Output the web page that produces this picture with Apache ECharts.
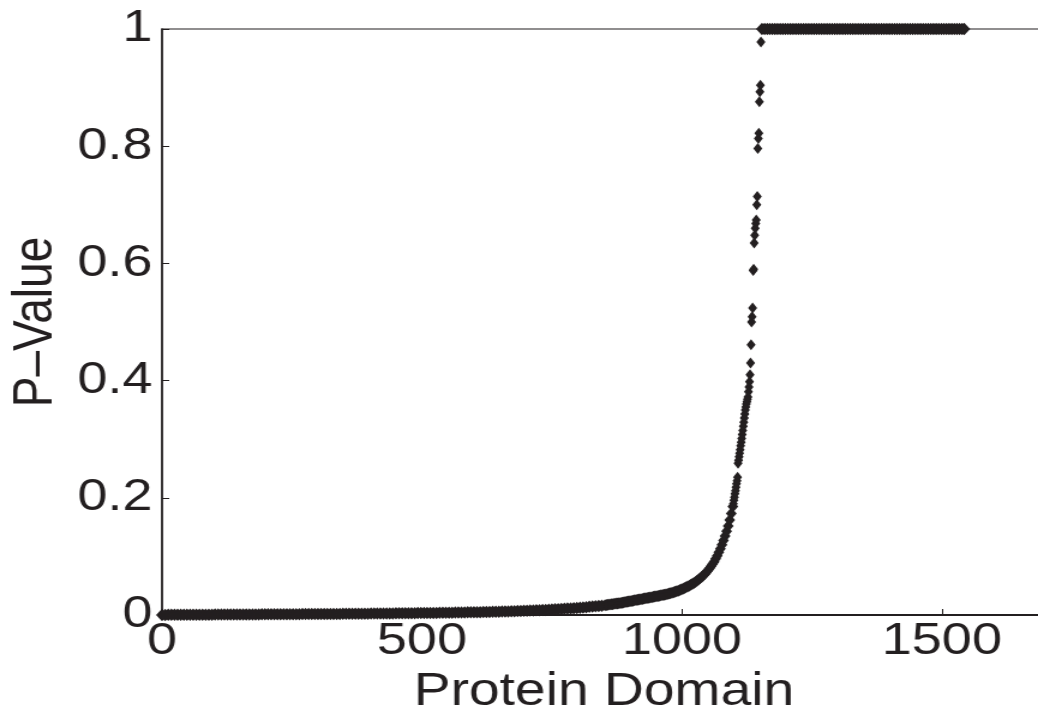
<!DOCTYPE html>
<html>
<head>
<meta charset="utf-8">
<script src="https://cdn.jsdelivr.net/npm/echarts@6/dist/echarts.min.js"></script>
<style>
  html, body { margin: 0; padding: 0; background: #fff; overflow: hidden; }
  #wrap { width: 1038px; height: 715px; overflow: hidden; }
  /* the reference figure is stretched sideways, so draw narrower and widen it */
  #chart { width: 865px; height: 715px; transform: scaleX(1.2); transform-origin: 0 0; }
</style>
</head>
<body>
<div id="wrap"><div id="chart"></div></div>
<script>
// low tail: domains 0..846 (every 6th), p-value close to 0
const lowIdx = [
  0,6,12,18,24,30,36,42,48,54,
  60,66,72,78,84,90,96,102,108,114,
  120,126,132,138,144,150,156,162,168,174,
  180,186,192,198,204,210,216,222,228,234,
  240,246,252,258,264,270,276,282,288,294,
  300,306,312,318,324,330,336,342,348,354,
  360,366,372,378,384,390,396,402,408,414,
  420,426,432,438,444,450,456,462,468,474,
  480,486,492,498,504,510,516,522,528,534,
  540,546,552,558,564,570,576,582,588,594,
  600,606,612,618,624,630,636,642,648,654,
  660,666,672,678,684,690,696,702,708,714,
  720,726,732,738,744,750,756,762,768,774,
  780,786,792,798,804,810,816,822,828,834,
  840,846
];
const lowP = [
  0.0002,0.0002,0.0003,0.0003,0.0003,0.0004,0.0004,0.0004,0.0004,0.0005,
  0.0005,0.0005,0.0005,0.0006,0.0006,0.0006,0.0006,0.0007,0.0007,0.0007,
  0.0007,0.0008,0.0008,0.0008,0.0008,0.0009,0.0009,0.0009,0.0009,0.001,
  0.001,0.001,0.0011,0.0011,0.0011,0.0011,0.0012,0.0012,0.0012,0.0013,
  0.0013,0.0013,0.0014,0.0014,0.0014,0.0015,0.0015,0.0015,0.0016,0.0016,
  0.0016,0.0017,0.0017,0.0018,0.0018,0.0018,0.0019,0.0019,0.002,0.002,
  0.002,0.0021,0.0021,0.0022,0.0022,0.0023,0.0023,0.0024,0.0024,0.0025,
  0.0025,0.0026,0.0026,0.0027,0.0027,0.0028,0.0028,0.0029,0.003,0.003,
  0.0031,0.0031,0.0032,0.0033,0.0033,0.0034,0.0035,0.0035,0.0036,0.0037,
  0.0038,0.0038,0.0039,0.004,0.0041,0.0042,0.0043,0.0044,0.0045,0.0046,
  0.0047,0.0048,0.0049,0.005,0.0051,0.0053,0.0054,0.0055,0.0057,0.0058,
  0.006,0.0061,0.0063,0.0065,0.0067,0.0069,0.0071,0.0073,0.0075,0.0077,
  0.008,0.0082,0.0085,0.0087,0.009,0.0093,0.0096,0.0099,0.0102,0.0106,
  0.011,0.0113,0.0117,0.0121,0.0125,0.013,0.0134,0.0139,0.0144,0.0149,
  0.0154,0.0159
];

// rising part: every 3rd domain up to 1098
const riseIdx = [
  852,855,858,861,864,867,870,873,876,879,
  882,885,888,891,894,897,900,903,906,909,
  912,915,918,921,924,927,930,933,936,939,
  942,945,948,951,954,957,960,963,966,969,
  972,975,978,981,984,987,990,993,996,999,
  1002,1005,1008,1011,1014,1017,1020,1023,1026,1029,
  1032,1035,1038,1041,1044,1047,1050,1053,1056,1059,
  1062,1065,1068,1071,1074,1077,1080,1083,1086,1089,
  1092,1095,1098
];
const riseP = [
  0.0165,0.017,0.0175,0.018,0.0185,0.0185,0.019,0.0195,0.0195,0.02,
  0.0205,0.021,0.0215,0.022,0.0225,0.023,0.0235,0.024,0.0245,0.025,
  0.0255,0.026,0.0265,0.027,0.0275,0.028,0.0285,0.029,0.0295,0.03,
  0.0305,0.031,0.0315,0.032,0.0325,0.033,0.0335,0.034,0.0345,0.035,
  0.0357,0.0365,0.0372,0.038,0.0388,0.0397,0.0406,0.0415,0.0425,0.0435,
  0.0447,0.046,0.0473,0.0487,0.05,0.0515,0.053,0.0547,0.0565,0.0585,
  0.0605,0.0627,0.065,0.0675,0.07,0.073,0.076,0.0795,0.083,0.087,
  0.091,0.096,0.101,0.107,0.113,0.12,0.127,0.135,0.143,0.152,
  0.162,0.173,0.185
];

// steep part: one point per domain
const steepIdx = [
  1099,1100,1101,1102,1103,1104,1105,1106,1107,1108,
  1109,1110,1111,1112,1113,1114,1115,1116,1117,1118,
  1119,1120,1121,1122,1123,1124,1125,1126,1127,1128,
  1129,1130,1131,1132,1133,1134,1135,1136,1137,1138,
  1139,1140,1141,1142,1143,1144,1145,1146,1147,1148,
  1149,1150,1151,1152,1153
];
const steepP = [
  0.19,0.196,0.201,0.207,0.212,0.218,0.224,0.229,0.235,0.259,
  0.264,0.27,0.276,0.282,0.289,0.295,0.301,0.308,0.315,0.322,
  0.329,0.336,0.343,0.35,0.355,0.36,0.364,0.368,0.372,0.381,
  0.389,0.398,0.41,0.43,0.461,0.5,0.509,0.524,0.588,0.59,
  0.635,0.648,0.66,0.668,0.674,0.7,0.714,0.796,0.813,0.822,
  0.876,0.893,0.904,0.978
];

// saturated at 1
const topIdx = [
  1154,1159,1164,1169,1174,1179,1184,1189,1194,1199,
  1204,1209,1214,1219,1224,1229,1234,1239,1244,1249,
  1254,1259,1264,1269,1274,1279,1284,1289,1294,1299,
  1304,1309,1314,1319,1324,1329,1334,1339,1344,1349,
  1354,1359,1364,1369,1374,1379,1384,1389,1394,1399,
  1404,1409,1414,1419,1424,1429,1434,1439,1444,1449,
  1454,1459,1464,1469,1474,1479,1484,1489,1494,1499,
  1504,1509,1514,1519,1524,1529,1534,1539,1543
];
const topP = [
  1,1,1,1,1,1,1,1,1,1,
  1,1,1,1,1,1,1,1,1,1,
  1,1,1,1,1,1,1,1,1,1,
  1,1,1,1,1,1,1,1,1,1,
  1,1,1,1,1,1,1,1,1,1,
  1,1,1,1,1,1,1,1,1,1,
  1,1,1,1,1,1,1,1,1,1,
  1,1,1,1,1,1,1,1,1
];

const xTicks = [0, 500, 1000, 1500];
const xMax = 1700;
const yTicks = [0, 0.2, 0.4, 0.6, 0.8, 1];

const pairs = (xs, ys) => xs.map((x, i) => [x, ys[i]]);

const ink = '#231f20';
const font = '"Liberation Sans", Arial, Helvetica, sans-serif';

// dense runs are sampled coarser than the real one-per-domain spacing,
// so their diamonds are a bit wider to close up the band
const dots = (data, size) => ({
  type: 'scatter',
  data: data,
  symbol: 'diamond',
  symbolSize: size,
  itemStyle: { color: ink, opacity: 1 },
  clip: false
});

let myChart = echarts.init(document.getElementById('chart'));
myChart.setOption({
  backgroundColor: '#fff',
  animation: false,
  grid: {
    left: 135,
    top: 29,
    right: -6.5,
    bottom: 100,
    outerBoundsMode: 'none',
    containLabel: false,
    show: true,
    borderColor: ink,
    borderWidth: 1.2,
    backgroundColor: 'transparent'
  },
  xAxis: {
    type: 'value',
    min: xTicks[0],
    max: xMax,
    interval: xTicks[1] - xTicks[0],
    name: 'Protein Domain',
    nameLocation: 'middle',
    nameGap: 46,
    nameTextStyle: { fontFamily: font, fontSize: 46, color: ink },
    axisLine: { onZero: false, lineStyle: { color: ink, width: 2 } },
    axisTick: { inside: true, length: 6, lineStyle: { color: ink, width: 1 } },
    axisLabel: {
      showMaxLabel: false,
      margin: 4,
      fontFamily: font,
      fontSize: 45,
      color: ink,
      formatter: v => String(v)
    },
    splitLine: { show: false }
  },
  yAxis: {
    type: 'value',
    min: yTicks[0],
    max: yTicks[yTicks.length - 1],
    interval: yTicks[1] - yTicks[0],
    name: 'P–Value',
    nameLocation: 'middle',
    nameGap: 82,
    nameTextStyle: { fontFamily: font, fontSize: 46, color: ink },
    axisLine: { show: true, onZero: false, lineStyle: { color: ink, width: 1.5 } },
    axisTick: { show: true, inside: true, length: 6, lineStyle: { color: ink, width: 1 } },
    axisLabel: {
      margin: 8,
      fontFamily: font,
      fontSize: 45,
      color: ink,
      formatter: v => String(v)
    },
    splitLine: { show: false }
  },
  series: [
    dots(pairs(lowIdx, lowP), [10, 12.5]),
    dots(pairs(riseIdx, riseP), [9, 12]),
    dots(pairs(steepIdx, steepP), [7.5, 11]),
    dots(pairs(topIdx, topP), [10, 12.5])
  ]
});
</script>
</body>
</html>
